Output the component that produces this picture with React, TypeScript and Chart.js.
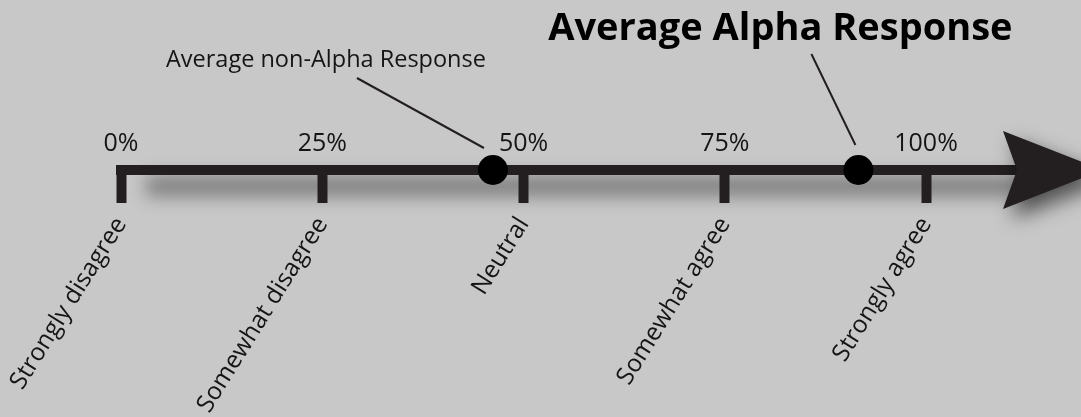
import React, { useEffect, useRef } from 'react';
import { Chart, registerables } from 'chart.js';

Chart.register(...registerables);

// ---- data ----
const categories = ['Strongly disagree', 'Somewhat disagree', 'Neutral', 'Somewhat agree', 'Strongly agree'];
const tickValues = [0, 25, 50, 75, 100];
const tickLabels = ['0%', '25%', '50%', '75%', '100%'];
const seriesNames = ['Average non-Alpha Response', 'Average Alpha Response'];
const seriesValues = [46.2, 91.6];
const axisMin = 0;
const axisMax = 111.3;

// ---- styles ----
const INK = '#231f20';
const BG = '#c8c8c8';
const FAMILY = "'Open Sans', sans-serif";

const annotationStyles = [
  { font: `400 23.5px ${FAMILY}`, dx: -167, dy: -103, lx1: -136, ly1: -92, lx2: -9, ly2: -22 },
  { font: `700 38px ${FAMILY}`, dx: -78, dy: -130, lx1: -47, ly1: -116, lx2: -3, ly2: -25 },
];

const decorPlugin = {
  id: 'decor',
  beforeDraw(chart: any) {
    const { ctx, width, height } = chart;
    const xs = chart.scales.x;
    ctx.save();
    ctx.fillStyle = BG;
    ctx.fillRect(0, 0, width, height);
    const yLine = xs.top;
    ctx.filter = 'blur(9px)';
    ctx.fillStyle = 'rgba(0,0,0,0.38)';
    ctx.fillRect(xs.left + 25, yLine + 6, xs.right - xs.left - 10, 20);
    ctx.restore();
  },
  afterDatasetsDraw(chart: any) {
    const { ctx } = chart;
    const xs = chart.scales.x;
    const y = xs.top;
    const r = xs.right;
    // arrow head
    ctx.save();
    ctx.shadowColor = 'rgba(0,0,0,0.6)';
    ctx.shadowBlur = 20;
    ctx.shadowOffsetX = 8;
    ctx.shadowOffsetY = 10;
    ctx.fillStyle = INK;
    ctx.beginPath();
    ctx.moveTo(r, y);
    ctx.lineTo(r - 14, y - 39);
    ctx.lineTo(r + 86, y);
    ctx.lineTo(r - 14, y + 39);
    ctx.closePath();
    ctx.fill();
    ctx.restore();

    // annotations
    chart.data.datasets.forEach((ds: any, i: number) => {
      const meta = chart.getDatasetMeta(i);
      const pt = meta.data[0];
      if (!pt) return;
      const st = annotationStyles[i];
      ctx.save();
      ctx.strokeStyle = INK;
      ctx.lineWidth = 2;
      ctx.beginPath();
      ctx.moveTo(pt.x + st.lx1, pt.y + st.ly1);
      ctx.lineTo(pt.x + st.lx2, pt.y + st.ly2);
      ctx.stroke();
      ctx.fillStyle = i === 1 ? '#000' : '#151515';
      ctx.font = st.font;
      ctx.textAlign = 'center';
      ctx.textBaseline = 'alphabetic';
      ctx.fillText(ds.label, pt.x + st.dx, pt.y + st.dy);
      ctx.restore();
    });
  },
};

export default function App() {
  const ref = useRef<HTMLCanvasElement>(null);
  useEffect(() => {
    document.body.style.margin = '0';
    document.body.style.background = BG;
    const setTicks = (s: any) => {
      s.ticks = tickValues.map((v) => ({ value: v }));
    };
    const chart = new Chart(ref.current as HTMLCanvasElement, {
      type: 'scatter',
      data: {
        datasets: seriesNames.map((name, i) => ({
          label: name,
          data: [{ x: seriesValues[i], y: 0 }],
          pointRadius: 15,
          pointHoverRadius: 15,
          backgroundColor: '#000',
          borderWidth: 0,
          clip: false as any,
        })),
      },
      options: {
        animation: false,
        responsive: true,
        maintainAspectRatio: false,
        events: [],
        layout: { padding: { left: 121, right: 64, top: 120, bottom: 0 } },
        plugins: { legend: { display: false }, tooltip: { enabled: false }, title: { display: false } },
        scales: {
          x: {
            type: 'linear',
            position: 'bottom',
            min: axisMin,
            max: axisMax,
            afterBuildTicks: setTicks,
            afterFit: (s: any) => {
              s.height = 247;
              s.paddingLeft = 0;
              s.paddingRight = 0;
            },
            border: { display: true, color: INK, width: 10 },
            grid: { display: true, drawOnChartArea: false, drawTicks: true, tickLength: 33, tickWidth: 10, tickColor: INK, color: INK },
            ticks: {
              autoSkip: false,
              minRotation: 58,
              maxRotation: 58,
              padding: 9,
              color: '#151515',
              font: { family: FAMILY, size: 24.5 },
              callback: (_v: any, i: number) => categories[i],
            },
          },
          x2: {
            type: 'linear',
            position: 'top',
            min: axisMin,
            max: axisMax,
            afterBuildTicks: setTicks,
            afterFit: (s: any) => {
              s.height = 40;
              s.paddingLeft = 0;
              s.paddingRight = 0;
            },
            border: { display: false },
            grid: { display: false, drawTicks: false },
            ticks: {
              autoSkip: false,
              maxRotation: 0,
              padding: 1,
              color: '#151515',
              font: { family: FAMILY, size: 25 },
              callback: (_v: any, i: number) => tickLabels[i],
            },
          },
          y: { display: false, min: 0, max: 1 },
        },
      } as any,
      plugins: [decorPlugin],
    });
    return () => chart.destroy();
  }, []);
  return (
    <div style={{ width: 1081, height: 417, position: 'relative', background: BG }}>
      <canvas ref={ref} />
    </div>
  );
}
